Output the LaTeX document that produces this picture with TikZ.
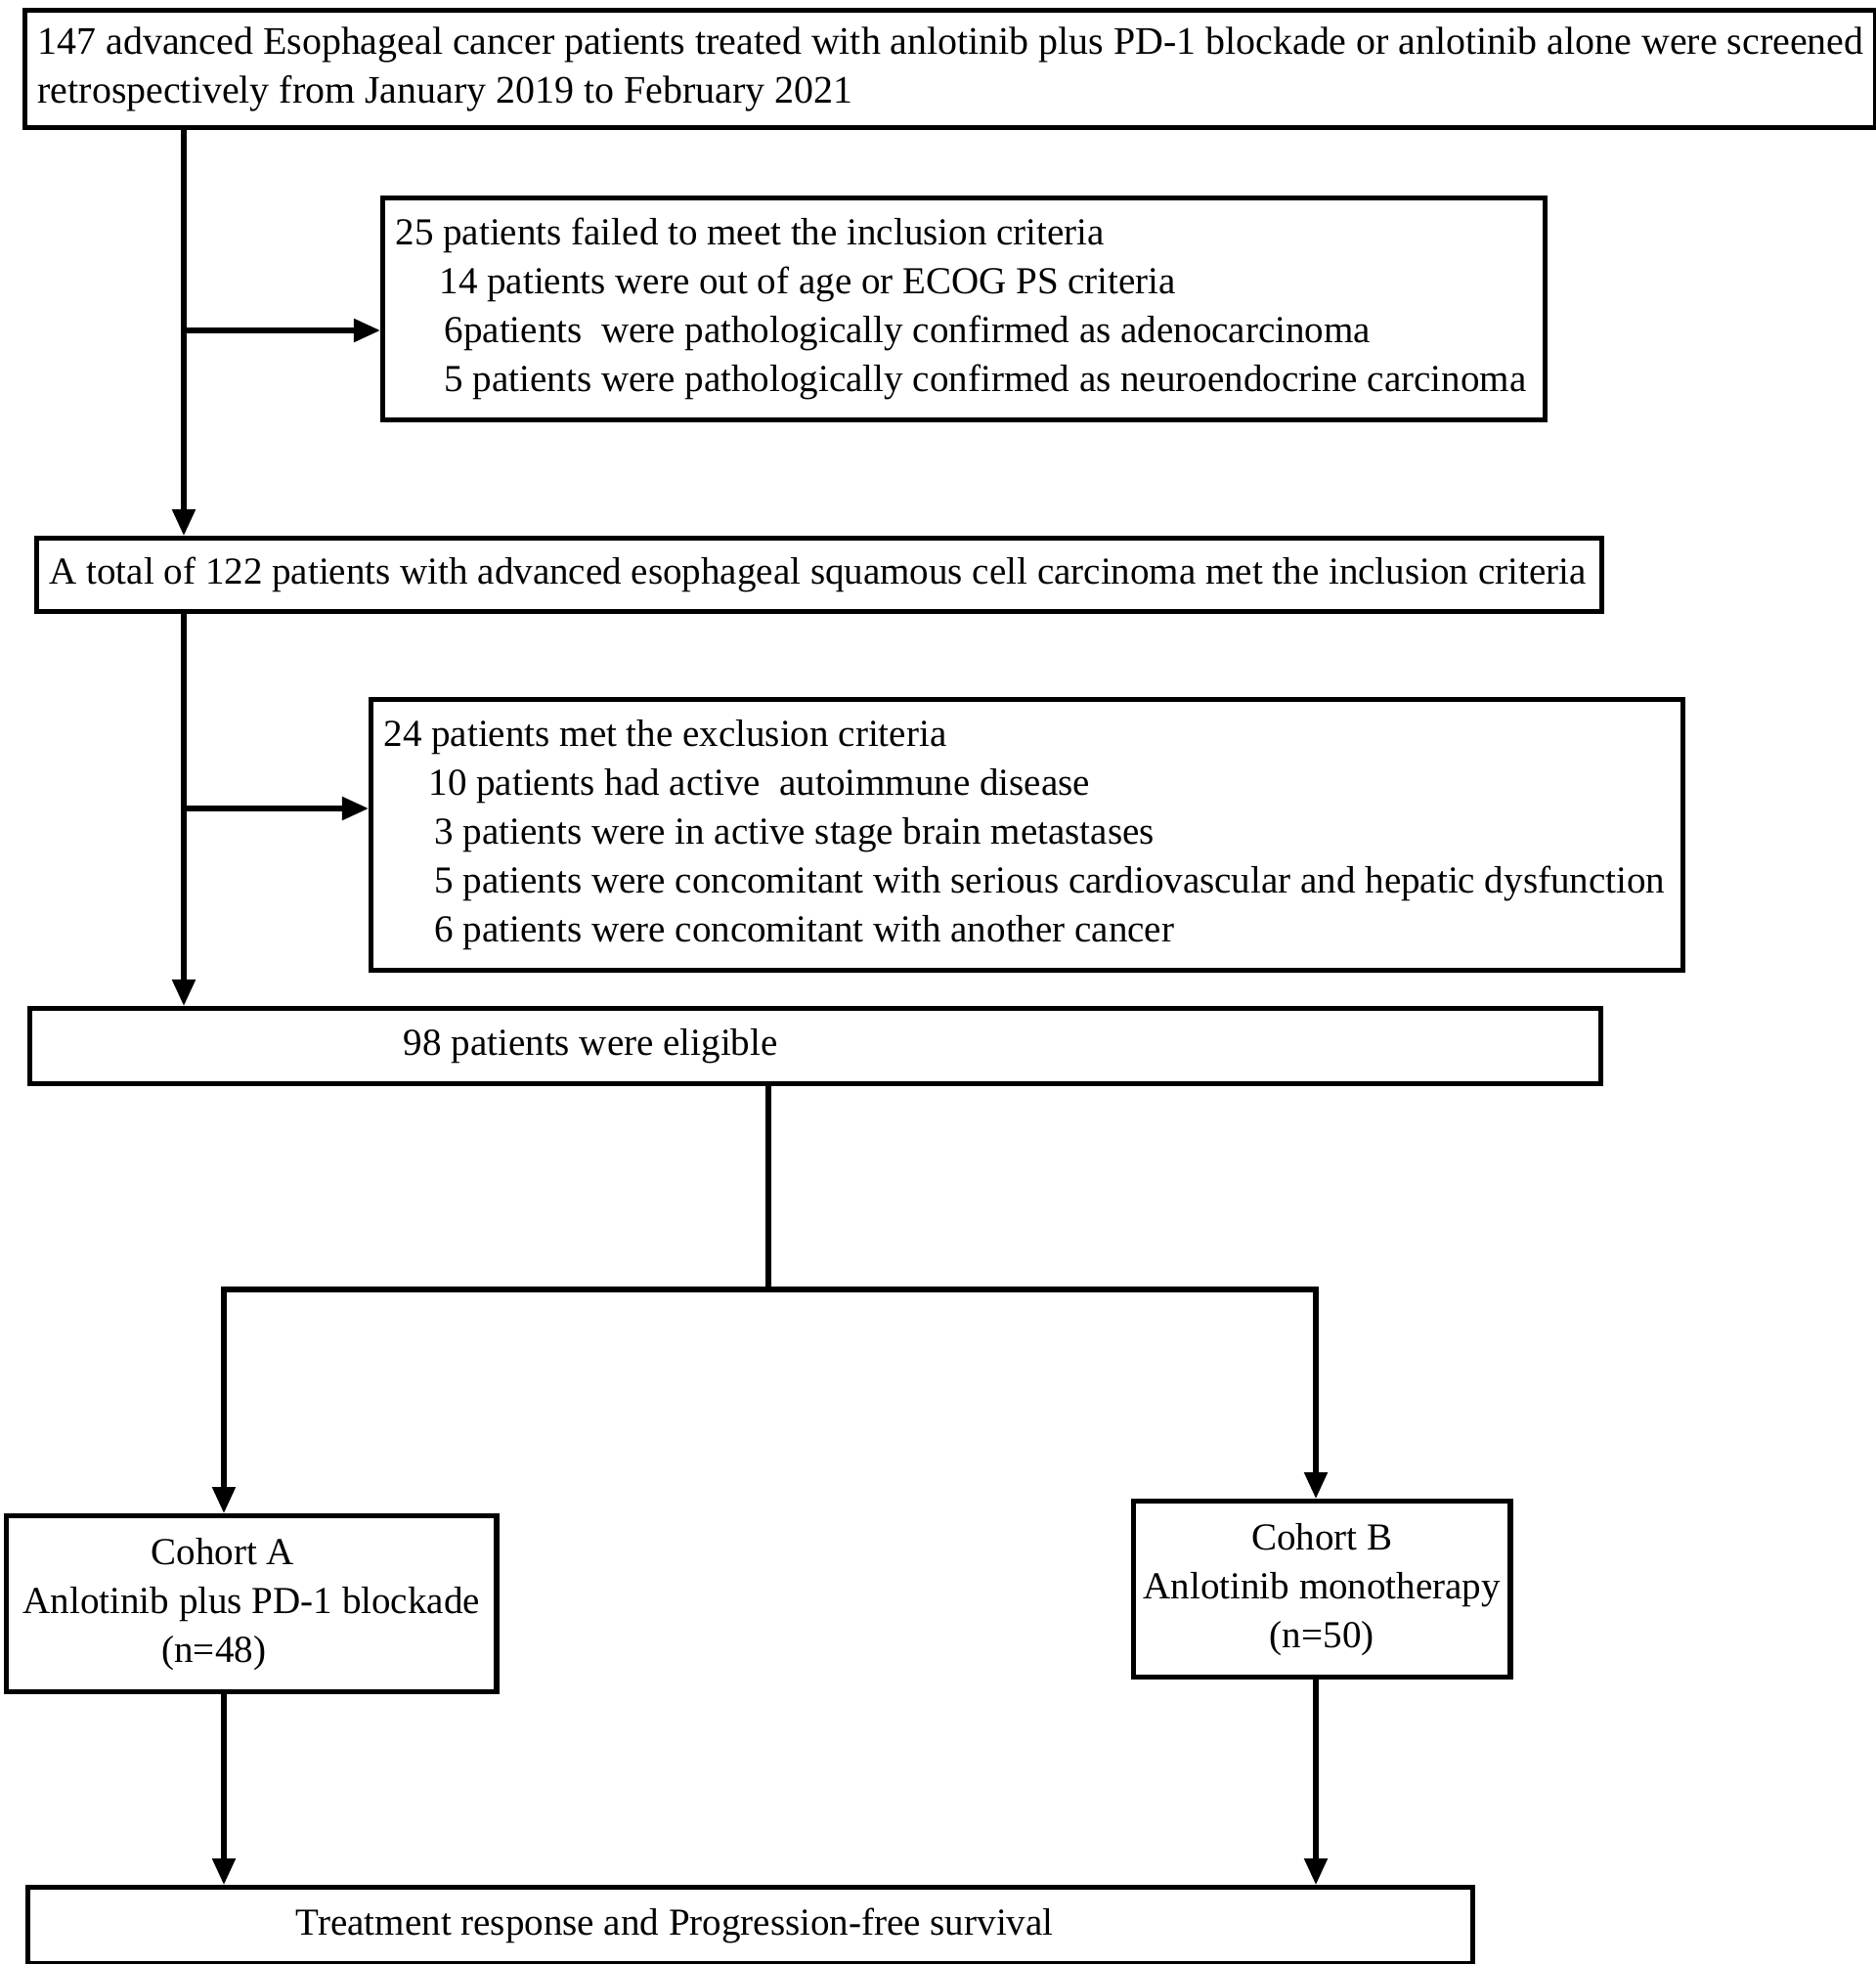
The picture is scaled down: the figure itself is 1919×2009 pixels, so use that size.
\documentclass[tikz,border=0pt]{standalone}
\usepackage{fontspec}
\setmainfont{Liberation Serif}
\usetikzlibrary{arrows.meta}
\hyphenpenalty=10000
\exhyphenpenalty=10000

\begin{document}
\begin{tikzpicture}[x=0.01cm, y=-0.01cm, font=\fontsize{11.1}{14.23}\selectfont]
    \tikzstyle{box}=[draw, line width=1.5pt, anchor=north west, inner xsep=0.13cm, inner ysep=0pt, align=flush left]
    \tikzstyle{cohort}=[box, inner xsep=0.05cm, align=flush center]
    \tikzstyle{link}=[line width=1.5pt, line cap=rect]
    \tikzstyle{arr}=[line width=1.5pt, -{Triangle[length=0.27cm, width=0.23cm]}]

    \useasboundingbox (0,0) rectangle (1919,2009);

    \node[box, text width=18.66cm, minimum height=1.2cm, font=\fontsize{11.35}{14.23}\selectfont] (screen) at (23,8)
        {\mbox{147 advanced Esophageal cancer patients treated with anlotinib plus PD-1 blockade or anlotinib alone were screened}\\
         retrospectively from January 2019 to February 2021};
    \node[box, text width=11.62cm, minimum height=2.27cm] (fail) at (389,200)
        {25 patients failed to meet the inclusion criteria\\
         \hspace*{0.45cm}14 patients were out of age or ECOG PS criteria\\
         \hspace*{0.5cm}6patients\ \ were pathologically confirmed as adenocarcinoma\\
         \hspace*{0.5cm}5 patients were pathologically confirmed as neuroendocrine carcinoma};
    \node[box, text width=15.74cm, minimum height=0.75cm] (incl) at (35,548)
        {A total of 122 patients with advanced esophageal squamous cell carcinoma met the inclusion criteria};
    \node[box, text width=13.15cm, minimum height=2.77cm] (excl) at (377,713)
        {24 patients met the exclusion criteria\\
         \hspace*{0.46cm}10 patients had active\ \ autoimmune disease\\
         \hspace*{0.52cm}3 patients were in active stage brain metastases\\
         \hspace*{0.52cm}5 patients were concomitant with serious cardiovascular and hepatic dysfunction\\
         \hspace*{0.52cm}6 patients were concomitant with another cancer};
    \node[box, text width=15.8cm, minimum height=0.77cm] (elig) at (28,1029)
        {\hspace*{3.69cm}98 patients were eligible};
    \node[cohort, text width=4.91cm, minimum height=1.8cm] (cohA) at (4,1548)
        {Cohort A\hspace{0.59cm}\mbox{}\\
         Anlotinib plus PD-1 blockade\\
         (n=48)\hspace{0.77cm}\mbox{}};
    \node[cohort, text width=3.75cm, minimum height=1.8cm] (cohB) at (1157,1533)
        {Cohort B\\
         Anlotinib monotherapy\\
         (n=50)};
    \node[box, text width=14.51cm, minimum height=0.78cm] (outcome) at (26,1928)
        {\hspace*{2.61cm}Treatment response and Progression-free survival};

    \coordinate (trunk) at (188,0);
    \coordinate (br1) at (188,338);
    \coordinate (br2) at (188,827);
    \draw[arr] (screen.south -| trunk) -- (incl.north -| trunk);
    \draw[arr] (br1) -- (br1 -| fail.west);
    \draw[arr] (incl.south -| trunk) -- (elig.north -| trunk);
    \draw[arr] (br2) -- (br2 -| excl.west);

    \coordinate (split) at (786,1319);
    \coordinate (legA) at (229,1319);
    \coordinate (legB) at (1346,1319);
    \draw[link] (elig.south -| split) -- (split);
    \draw[link] (legA) -- (legB);
    \draw[arr] (legA) -- (legA |- cohA.north);
    \draw[arr] (legB) -- (legB |- cohB.north);
    \draw[arr] (legA |- cohA.south) -- (legA |- outcome.north);
    \draw[arr] (legB |- cohB.south) -- (legB |- outcome.north);
\end{tikzpicture}
\end{document}
